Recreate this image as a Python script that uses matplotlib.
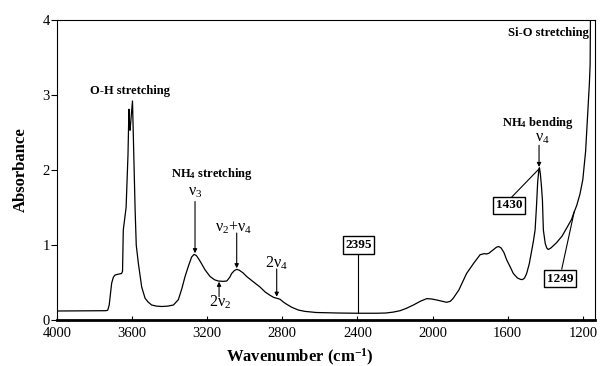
import matplotlib
matplotlib.use("Agg")
import matplotlib.pyplot as plt

plt.rcParams['font.family'] = ['Liberation Serif', 'DejaVu Serif']
plt.rcParams['mathtext.fontset'] = 'custom'
plt.rcParams['mathtext.rm'] = 'Liberation Serif'
plt.rcParams['mathtext.bf'] = 'Liberation Serif:bold'

# Spectrum (wavenumber cm-1, absorbance)
wavenumber = [4000, 3800, 3740, 3730, 3722, 3717, 3709, 3700, 3691, 3675, 3656, 3651,
              3647, 3632, 3622, 3617, 3614, 3611, 3604, 3598, 3592, 3584, 3578, 3567,
              3549, 3531, 3515, 3496, 3470, 3442, 3410, 3380, 3354, 3335, 3318, 3300,
              3283, 3270, 3258, 3247, 3230, 3212, 3185, 3160, 3141, 3115, 3096, 3080,
              3070, 3055, 3043, 3030, 3010, 2990, 2955, 2919, 2890, 2866, 2845, 2830,
              2812, 2795, 2777, 2750, 2715, 2680, 2620, 2500, 2400, 2300, 2250, 2210,
              2173, 2140, 2102, 2065, 2031, 2005, 1978, 1950, 1925, 1905, 1890, 1860,
              1819, 1780, 1747, 1725, 1712, 1700, 1680, 1660, 1648, 1635, 1620, 1605,
              1585, 1570, 1548, 1530, 1520, 1510, 1499, 1485, 1472, 1463, 1454, 1447,
              1440, 1434, 1431, 1426, 1420, 1415, 1410, 1400, 1392, 1384, 1370, 1340,
              1310, 1287, 1260, 1249, 1232, 1215, 1200, 1185, 1175, 1165, 1161, 1160, 1159]
absorbance = [0.12, 0.122, 0.124, 0.13, 0.20, 0.31, 0.49, 0.57, 0.60, 0.61, 0.62, 0.65,
              1.20, 1.50, 2.20, 2.81, 2.62, 2.53, 2.75, 2.92, 2.30, 1.47, 1.00, 0.76,
              0.44, 0.29, 0.24, 0.20, 0.185, 0.18, 0.185, 0.20, 0.27, 0.42, 0.58, 0.72,
              0.84, 0.875, 0.86, 0.82, 0.75, 0.67, 0.58, 0.535, 0.52, 0.515, 0.52, 0.57,
              0.62, 0.66, 0.675, 0.665, 0.63, 0.58, 0.51, 0.44, 0.37, 0.33, 0.30, 0.29,
              0.276, 0.24, 0.21, 0.17, 0.133, 0.115, 0.10, 0.093, 0.09, 0.09, 0.093, 0.105,
              0.124, 0.155, 0.20, 0.25, 0.285, 0.28, 0.267, 0.25, 0.236, 0.25, 0.29, 0.40,
              0.62, 0.76, 0.87, 0.885, 0.88, 0.89, 0.93, 0.97, 0.98, 0.96, 0.90, 0.80,
              0.70, 0.62, 0.56, 0.54, 0.54, 0.56, 0.62, 0.75, 0.93, 1.05, 1.20, 1.50,
              1.85, 2.00, 2.03, 1.95, 1.78, 1.60, 1.20, 1.02, 0.96, 0.94, 0.96, 1.03,
              1.12, 1.22, 1.34, 1.42, 1.53, 1.68, 1.87, 2.25, 2.70, 3.15, 3.40, 3.70, 4.10]

x_ticks = [4000, 3600, 3200, 2800, 2400, 2000, 1600, 1200]
y_ticks = [0, 1, 2, 3, 4]

fig = plt.figure(figsize=(6.01, 3.66), dpi=100)
ax = fig.add_axes([57/601, 46/366, 538/601, 300/366])
ax.plot(wavenumber, absorbance, color='black', lw=0.9)
ax.set_xlim(4000, 1135)
ax.set_ylim(0, 4)
ax.set_xticks(x_ticks)
ax.set_yticks(y_ticks)
ax.tick_params(axis='x', direction='in', length=3, width=0.8, labelsize=10.5, pad=5)
ax.tick_params(axis='y', direction='out', length=4, width=0.8, labelsize=10.5, pad=1)
for s in ['top', 'right', 'left']:
    ax.spines[s].set_linewidth(0.8)
ax.spines['bottom'].set_linewidth(2.0)

ax.set_xlabel('Wavenumber (cm$\\mathregular{^{-1}}$)', fontsize=12, fontweight='bold')
ax.set_ylabel('Absorbance', fontsize=12, fontweight='bold')
ax.xaxis.set_label_coords(0.452, -0.088)
ax.yaxis.set_label_coords(-0.052, 0.5)

bold = dict(fontsize=9, fontweight='bold', ha='center', va='center')
ax.text(3613, 3.05, 'O-H stretching', **bold)
ax.text(3174, 1.94, 'NH$\\mathregular{_4}$ stretching', **bold)
ax.text(1441, 2.63, 'NH$\\mathregular{_4}$ bending', **bold)
ax.text(1167, 3.83, 'Si-O stretching', fontsize=9, fontweight='bold', ha='right', va='center')

arrow = dict(arrowstyle='-|>', lw=0.8, color='black', mutation_scale=6, shrinkA=0, shrinkB=0)
nu = dict(fontsize=11.5, ha='center', va='center')
ax.text(3265, 1.70, '$\\mathregular{ν_3}$', **nu)
ax.annotate('', xy=(3265, 0.89), xytext=(3265, 1.58), arrowprops=arrow)
ax.text(3057, 1.23, '$\\mathregular{ν_2{+}ν_4}$', **nu)
ax.annotate('', xy=(3043, 0.69), xytext=(3043, 1.16), arrowprops=arrow)
ax.text(3132, 0.23, '$\\mathregular{2ν_2}$', **nu)
ax.annotate('', xy=(3137, 0.51), xytext=(3137, 0.31), arrowprops=arrow)
ax.text(2830, 0.76, '$\\mathregular{2ν_4}$', **nu)
ax.annotate('', xy=(2830, 0.31), xytext=(2830, 0.68), arrowprops=arrow)
ax.text(1417, 2.43, '$\\mathregular{ν_4}$', **nu)
ax.annotate('', xy=(1433, 2.04), xytext=(1433, 2.33), arrowprops=arrow)

box = dict(boxstyle='square,pad=0.2', fc='white', ec='black', lw=1.0)
boxt = dict(fontsize=9.5, fontweight='bold', ha='center', va='center', bbox=box)
ax.plot([2395, 2395], [0.09, 0.88], color='black', lw=0.8)
ax.text(2395, 1.0, '2395', **boxt)
ax.plot([1578, 1431], [1.64, 2.02], color='black', lw=0.8)
ax.text(1593, 1.53, '1430', **boxt)
ax.plot([1312, 1246], [0.68, 1.44], color='black', lw=0.8)
ax.text(1321, 0.55, '1249', **boxt)

fig.savefig('out.png', dpi=100)
